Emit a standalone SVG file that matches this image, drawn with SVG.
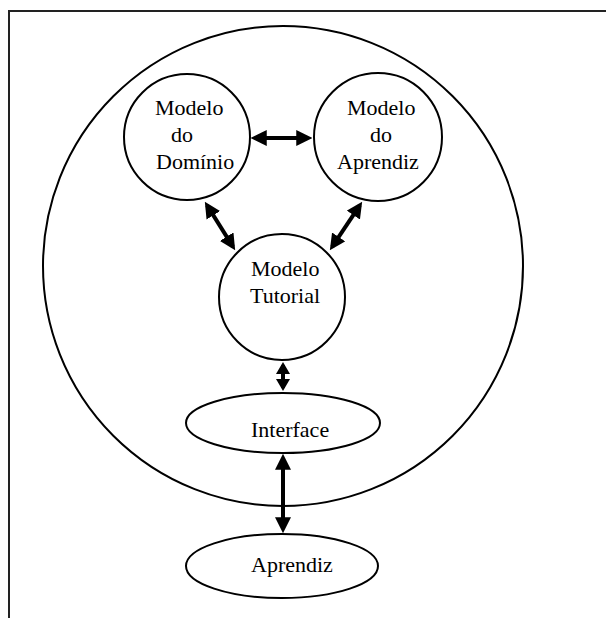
<svg xmlns="http://www.w3.org/2000/svg" width="606" height="618" viewBox="0 0 606 618">
<style>
.shape{fill:none;stroke:#000;stroke-width:2}
.conn{stroke:#000;stroke-width:4;fill:none}
.lbl{font-family:"Liberation Serif","Times New Roman",serif;font-size:22px;fill:#000}
.frame{stroke:#222;stroke-width:2;fill:none}
</style>
<defs>
<marker id="ah" markerUnits="userSpaceOnUse" markerWidth="16" markerHeight="16" refX="11" refY="7.5" orient="auto-start-reverse" viewBox="0 0 15 15">
<path d="M0,0 L15,7.5 L0,15 z" fill="#000"/>
</marker>
<marker id="ahs" markerUnits="userSpaceOnUse" markerWidth="13" markerHeight="14" refX="9" refY="7" orient="auto-start-reverse" viewBox="0 0 12 14">
<path d="M0,0 L12,7 L0,14 z" fill="#000"/>
</marker>
</defs>
<path class="frame" d="M9,618 L9,11 L606,11"/>
<g id="sistema">
<circle class="shape" cx="283" cy="266" r="240"/>
</g>
<g id="dominio">
<circle class="shape" cx="187" cy="137" r="63"/>
<text class="lbl" x="155" y="115">Modelo</text>
<text class="lbl" x="171" y="142">do</text>
<text class="lbl" x="156" y="169">Domínio</text>
</g>
<g id="aprendiz-modelo">
<circle class="shape" cx="378" cy="137" r="64"/>
<text class="lbl" x="347" y="115">Modelo</text>
<text class="lbl" x="370" y="142">do</text>
<text class="lbl" x="337" y="169">Aprendiz</text>
</g>
<g id="tutorial">
<circle class="shape" cx="282" cy="297" r="63"/>
<text class="lbl" x="251" y="276">Modelo</text>
<text class="lbl" x="250" y="303">Tutorial</text>
</g>
<g id="interface">
<ellipse class="shape" cx="283" cy="423" rx="97" ry="30"/>
<text class="lbl" x="251" y="437">Interface</text>
</g>
<g id="aprendiz">
<ellipse class="shape" cx="282" cy="566" rx="96" ry="32"/>
<text class="lbl" x="251" y="572">Aprendiz</text>
</g>
<g id="connectors">
<line class="conn" x1="255" y1="138" x2="308" y2="138" marker-start="url(#ah)" marker-end="url(#ah)"/>
<line class="conn" x1="207.1" y1="205.4" x2="232.9" y2="246.6" marker-start="url(#ah)" marker-end="url(#ah)"/>
<line class="conn" x1="359.8" y1="205.3" x2="332.2" y2="246.7" marker-start="url(#ah)" marker-end="url(#ah)"/>
<line class="conn" x1="283" y1="365" x2="283" y2="388" marker-start="url(#ahs)" marker-end="url(#ahs)"/>
<line class="conn" x1="283" y1="458" x2="283" y2="529" marker-start="url(#ah)" marker-end="url(#ah)"/>
</g>
</svg>
